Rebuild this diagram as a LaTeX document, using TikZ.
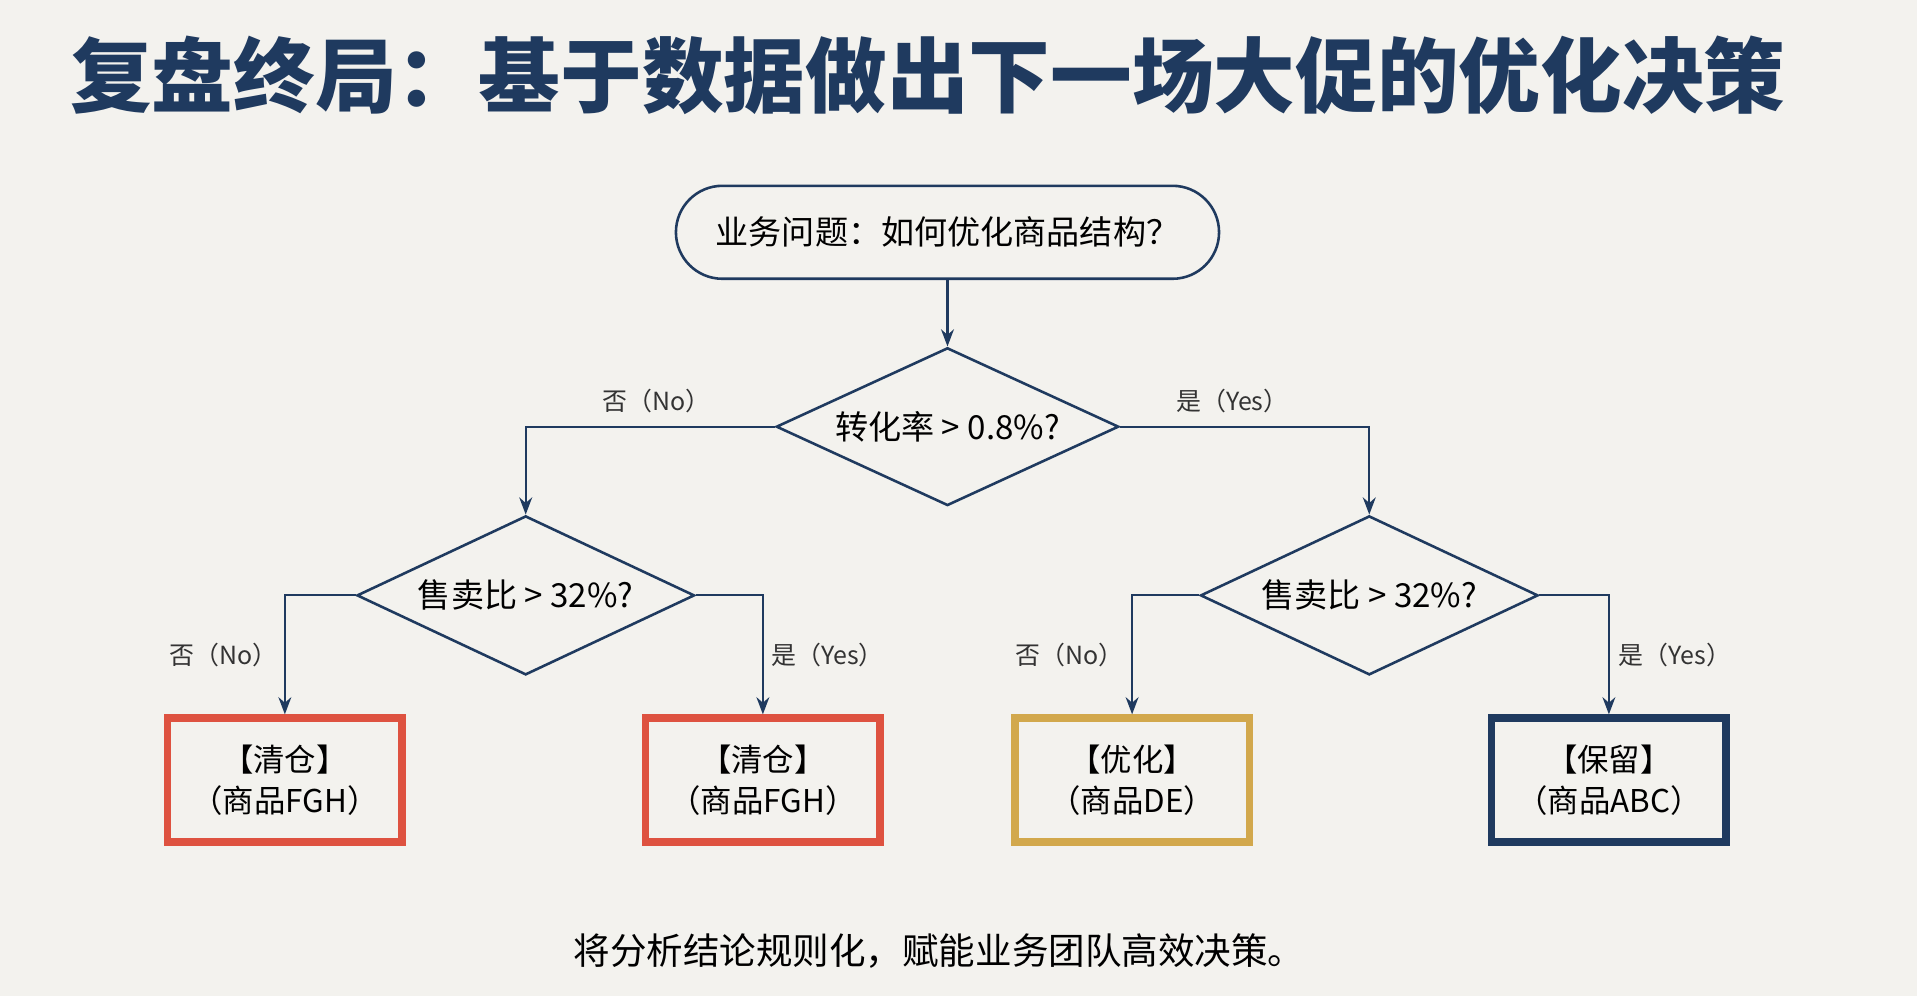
\documentclass[tikz,border=0pt]{standalone}
\usepackage{fontspec}
\setmainfont{Noto Sans CJK SC}
\usetikzlibrary{shapes.geometric,arrows.meta,positioning}
\definecolor{navy}{RGB}{31,58,95}
\definecolor{clearred}{RGB}{222,82,64}
\definecolor{optgold}{RGB}{210,168,76}
\definecolor{bgpaper}{RGB}{243,242,238}
\begin{document}
\begin{tikzpicture}[
    x=0.01cm, y=-0.01cm,
    flow/.style={draw=navy, line width=0.5pt, -{Stealth[length=4pt]}},
    decision/.style={diamond, draw=navy, line width=0.6pt, shape aspect=2.2, minimum width=2.8cm, minimum height=1.29cm, inner sep=0pt, font=\fontsize{7.7}{8}\selectfont},
    result/.style={rectangle, line width=1.8pt, minimum width=1.92cm, minimum height=1.01cm, align=center, font=\fontsize{7.3}{9.5}\selectfont},
    branch/.style={font=\fontsize{5.8}{6}\selectfont, text=black!80}
]
\fill[bgpaper] (0,0) rectangle (1568,815);
\useasboundingbox (0,0) rectangle (1568,815);
\node[anchor=west, text=navy, font=\fontsize{19}{22}\bfseries\selectfont] (title) at (45,62) {复盘终局：基于数据做出下一场大促的优化决策};
% question and decisions
\node[draw=navy, line width=0.6pt, rounded corners=0.38cm, minimum width=4.44cm, minimum height=0.76cm, font=\fontsize{7.7}{8}\selectfont] (question) at (775,190) {业务问题：如何优化商品结构？};
\node[decision] (conv) at (775,349) {转化率 > 0.8\%?};
\node[decision, minimum width=2.76cm, minimum height=1.3cm] (sellL) at (430,487) {售卖比 > 32\%?};
\node[decision, minimum width=2.76cm, minimum height=1.3cm] (sellR) at (1120,487) {售卖比 > 32\%?};
% results
\node[result, draw=clearred] (clear1) at (233,638) {【清仓】\\（商品FGH）};
\node[result, draw=clearred] (clear2) at (624,638) {【清仓】\\（商品FGH）};
\node[result, draw=optgold] (optim) at (926,638) {【优化】\\（商品DE）};
\node[result, draw=navy] (keep) at (1316,638) {【保留】\\（商品ABC）};
% connectors
\draw[flow] (question) -- (conv);
\draw[flow] (conv.west) -| (sellL.north);
\draw[flow] (conv.east) -| (sellR.north);
\draw[flow] (sellL.west) -| (clear1.north);
\draw[flow] (sellL.east) -| (clear2.north);
\draw[flow] (sellR.west) -| (optim.north);
\draw[flow] (sellR.east) -| (keep.north);
% branch labels
\node[branch] (noA) at (537,328) {否（No）};
\node[branch] (yesA) at (1008,328) {是（Yes）};
\node[branch] (noB) at (183,536) {否（No）};
\node[branch] (yesB) at (677,536) {是（Yes）};
\node[branch] (noC) at (875,536) {否（No）};
\node[branch] (yesC) at (1370,536) {是（Yes）};
\node[font=\fontsize{8.5}{10}\selectfont] (summary) at (768,778) {将分析结论规则化，赋能业务团队高效决策。};
\end{tikzpicture}
\end{document}
